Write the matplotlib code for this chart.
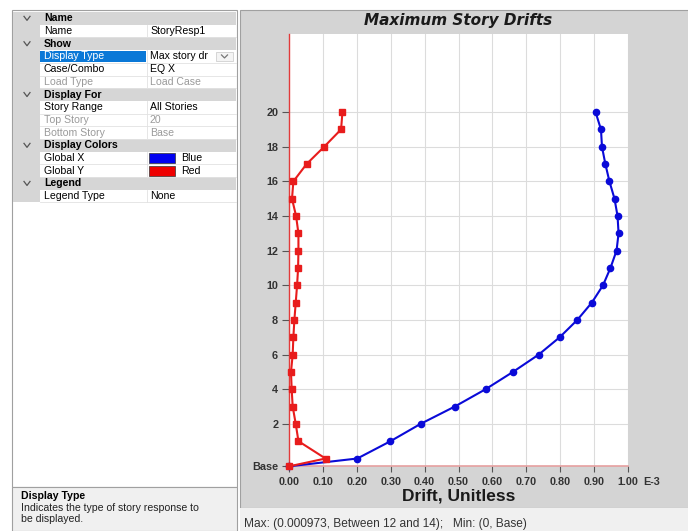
import matplotlib
matplotlib.use("Agg")
import matplotlib.pyplot as plt
from matplotlib.patches import Rectangle
from matplotlib.lines import Line2D

# ---------------- data ----------------
level_names = ["Base", "0", "1", "2", "3", "4", "5", "6", "7", "8", "9", "10",
               "11", "12", "13", "14", "15", "16", "17", "18", "19", "20"]
level_elev = [0.0, 0.45, 1.45, 2.45, 3.45, 4.45, 5.45, 6.45, 7.45, 8.45, 9.45, 10.45,
              11.45, 12.45, 13.45, 14.45, 15.45, 16.45, 17.45, 18.45, 19.45, 20.45]
drift_x = [0.0, 0.201, 0.299, 0.388, 0.489, 0.580, 0.661, 0.737, 0.799, 0.851, 0.894,
           0.927, 0.949, 0.967, 0.973, 0.970, 0.961, 0.946, 0.934, 0.924, 0.921, 0.905]
drift_y = [0.0, 0.107, 0.027, 0.019, 0.010, 0.007, 0.005, 0.010, 0.012, 0.015, 0.019,
           0.023, 0.026, 0.027, 0.027, 0.020, 0.008, 0.012, 0.051, 0.103, 0.153, 0.157]
ytick_names = ["Base", "2", "4", "6", "8", "10", "12", "14", "16", "18", "20"]
xticks = [0.0, 0.1, 0.2, 0.3, 0.4, 0.5, 0.6, 0.7, 0.8, 0.9, 1.0]
xtick_labels = ["0.00", "0.10", "0.20", "0.30", "0.40", "0.50", "0.60", "0.70",
                "0.80", "0.90", "1.00"]

prop_rows = [
    ("cat", "Name", ""),
    ("item", "Name", "StoryResp1"),
    ("cat", "Show", ""),
    ("sel", "Display Type", "Max story dr"),
    ("item", "Case/Combo", "EQ X"),
    ("dim", "Load Type", "Load Case"),
    ("cat", "Display For", ""),
    ("item", "Story Range", "All Stories"),
    ("dim", "Top Story", "20"),
    ("dim", "Bottom Story", "Base"),
    ("cat", "Display Colors", ""),
    ("swatch_blue", "Global X", "Blue"),
    ("swatch_red", "Global Y", "Red"),
    ("cat", "Legend", ""),
    ("item", "Legend Type", "None"),
]

# ---------------- figure ----------------
W, H = 688, 531
fig = plt.figure(figsize=(W / 100, H / 100), dpi=100)
fig.patch.set_facecolor("white")
FONT = "Liberation Sans"


def fx(x):
    return x / W


def fy(y):
    return 1 - y / H


def rect(x0, y0, x1, y1, fc, ec="none", lw=0.0, z=-5):
    fig.add_artist(Rectangle((fx(x0), fy(y1)), (x1 - x0) / W, (y1 - y0) / H,
                             transform=fig.transFigure, facecolor=fc,
                             edgecolor=ec, linewidth=lw, zorder=z))


def hline(x0, x1, y, c, lw=0.8, z=-4):
    fig.add_artist(Line2D([fx(x0), fx(x1)], [fy(y), fy(y)], transform=fig.transFigure,
                          color=c, lw=lw, zorder=z))


def vline(x, y0, y1, c, lw=0.8, z=-4):
    fig.add_artist(Line2D([fx(x), fx(x)], [fy(y0), fy(y1)], transform=fig.transFigure,
                          color=c, lw=lw, zorder=z))


def chevron(cx, cy, c="#555555", w=3.0, h=2.0):
    fig.add_artist(Line2D([fx(cx - w), fx(cx), fx(cx + w)], [fy(cy - h), fy(cy + h), fy(cy - h)],
                          transform=fig.transFigure, color=c, lw=0.9, zorder=2))


def txt(x, y, s, **kw):
    kw.setdefault("family", FONT)
    kw.setdefault("va", "center")
    kw.setdefault("size", 7.6)
    fig.text(fx(x), fy(y), s, **kw)


# ---- left property panel ----
LX0, LX1 = 12, 237
rect(LX0, 10, LX1, 487, "white", ec="#a0a0a0", lw=0.8)
row_h = 12.7
top = 12
for i, (kind, name, val) in enumerate(prop_rows):
    y0 = top + i * row_h
    y1 = y0 + row_h
    yc = (y0 + y1) / 2
    if kind == "cat":
        rect(LX0 + 1, y0, LX1 - 1, y1, "#d6d6d6", z=-3)
        chevron(27, yc)
        txt(44, yc, name, weight="bold", color="black")
    else:
        rect(LX0 + 1, y0, 40, y1, "#d6d6d6", z=-3)
        hline(40, LX1 - 1, y1, "#e2e2e2", lw=0.6, z=-2)
        vline(147, y0, y1, "#e2e2e2", lw=0.6, z=-2)
        color = "#9a9a9a" if kind == "dim" else "black"
        if kind == "sel":
            rect(40, y0 + 0.5, 146, y1 - 0.5, "#0a78d7", z=-2)
            txt(44, yc, name, color="white")
            rect(216, y0 + 1.5, 233, y1 - 1.5, "#f4f4f4", ec="#c8c8c8", lw=0.5, z=-1)
            chevron(224.5, yc, c="#777777", w=3.0, h=1.5)
            txt(150, yc, val, color="black")
        elif kind.startswith("swatch"):
            txt(44, yc, name, color="black")
            sw = "#0000f0" if kind == "swatch_blue" else "#ee0000"
            rect(149, y0 + 1.5, 175, y1 - 1.5, sw, ec="#333333", lw=0.5, z=-1)
            txt(181, yc, val, color="black")
        else:
            txt(44, yc, name, color=color)
            txt(150, yc, val, color=color)

# description box
rect(LX0, 487, LX1, 531, "#f0f0f0", ec="#a0a0a0", lw=0.8)
txt(21, 496, "Display Type", weight="bold", color="black")
txt(21, 508, "Indicates the type of story response to", color="#222222")
txt(21, 519, "be displayed.", color="#222222")

# ---- chart panel ----
rect(240, 10, 690, 508, "#d4d4d4", ec="#a0a0a0", lw=0.8)
rect(240, 508, 690, 533, "#f0f0f0")
txt(244, 524, "Max: (0.000973, Between 12 and 14);   Min: (0, Base)", color="#333333", size=8.6)

txt(458.5, 20, "Maximum Story Drifts", family="DejaVu Sans", weight="bold",
    style="italic", size=11, ha="center", color="#1a1a1a")

# ---- axes ----
AX0, AX1, AY0, AY1 = 289.3, 627.7, 466.3, 34.3
ax = fig.add_axes([fx(AX0), fy(AY0), (AX1 - AX0) / W, (AY0 - AY1) / H])
ax.set_facecolor("white")
ax.set_xlim(0, 1.0)
ax.set_ylim(0, (AY0 - AY1) / 17.32)

ytick_pos = [level_elev[level_names.index(n)] for n in ytick_names]
ax.set_yticks(ytick_pos)
ax.set_yticklabels(ytick_names)
ax.set_xticks(xticks)
ax.set_xticklabels(xtick_labels)

for v in xticks[1:]:
    ax.axvline(v, color="#dcdcdc", lw=0.8, zorder=0)
for v in ytick_pos[1:]:
    ax.axhline(v, color="#dcdcdc", lw=0.8, zorder=0)

ax.plot(drift_x, level_elev, color="#0a0ad8", lw=1.5, marker="o", ms=4.5,
        markerfacecolor="#0a0ad8", markeredgecolor="#0a0ad8", zorder=3, clip_on=False)
ax.plot(drift_y, level_elev, color="#e81c1c", lw=1.5, marker="s", ms=4.5,
        markerfacecolor="#e81c1c", markeredgecolor="#e81c1c", zorder=4, clip_on=False)

for s in ["top", "right"]:
    ax.spines[s].set_visible(False)
ax.spines["left"].set_color("#e23a3a")
ax.spines["left"].set_linewidth(1.0)
ax.spines["bottom"].set_color("#e6a0a0")
ax.spines["bottom"].set_linewidth(1.2)

TL, TP, TS = 4, 3.5, 7.8
ax.tick_params(axis="x", length=TL, width=0.8, color="#555555", pad=TP,
               labelsize=TS, labelcolor="#333333")
ax.tick_params(axis="y", length=5, width=0.8, color="#555555", pad=3,
               labelsize=TS, labelcolor="#333333")
for lab in ax.get_xticklabels() + ax.get_yticklabels():
    lab.set_fontweight("bold")
    lab.set_family(FONT)

ax.annotate("E-3", xy=(1.0, 0), xycoords="axes fraction", xytext=(11, -(TL + TP)),
            textcoords="offset points", ha="left", va="top", size=TS,
            weight="bold", color="#333333", family=FONT, annotation_clip=False)

ax.set_xlabel("Drift, Unitless", family=FONT, weight="bold", size=12.5,
              color="#1a1a1a", labelpad=1)

fig.savefig("out.png", dpi=100, facecolor=fig.get_facecolor())
